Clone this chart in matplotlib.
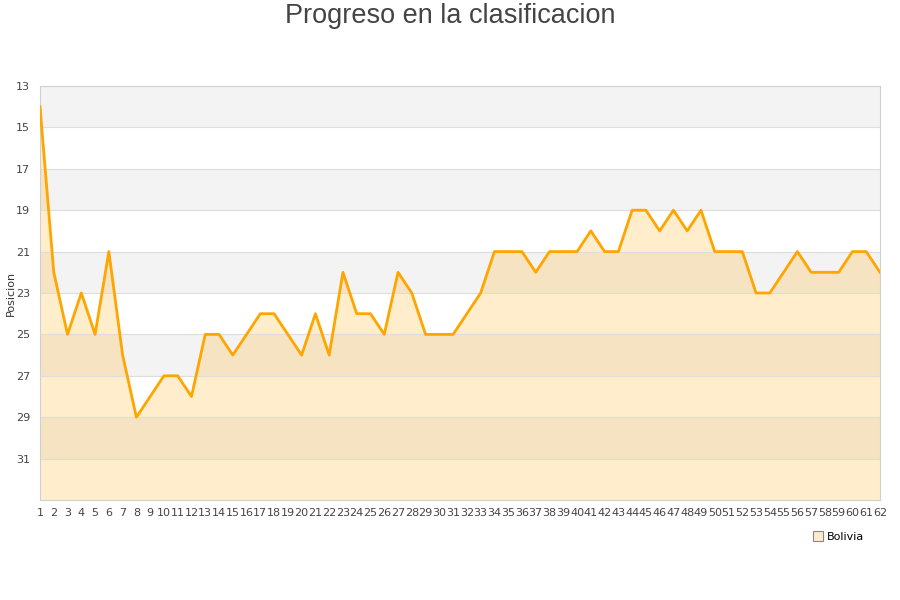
import numpy as np
import matplotlib.pyplot as plt
from matplotlib.lines import Line2D

# datos: posicion por jornada
jornadas = list(range(1, 63))
posicion = [14, 22, 25, 23, 25, 21, 26, 29, 28, 27,
            27, 28, 25, 25, 26, 25, 24, 24, 25, 26,
            24, 26, 22, 24, 24, 25, 22, 23, 25, 25,
            25, 24, 23, 21, 21, 21, 22, 21, 21, 21,
            20, 21, 21, 19, 19, 20, 19, 20, 19, 21,
            21, 21, 23, 23, 22, 21, 22, 22, 22, 21,
            21, 22]
y_ticks = list(range(13, 33, 2))
y_min, y_max = 13, 33

fig = plt.figure(figsize=(9, 6), dpi=100)
ax = fig.add_axes([40 / 900, 1 - 500 / 600, 840 / 900, 414 / 600])

# bandas alternas de fondo
for i, t in enumerate(range(y_min, y_max, 2)):
    if i % 2 == 0:
        ax.axhspan(t, t + 2, color='#f3f3f3', zorder=0, lw=0)

ax.fill_between(jornadas, posicion, y_max, color='#ffa500', alpha=0.2, lw=0, zorder=1)
ax.plot(jornadas, posicion, color='#ffa500', lw=2, zorder=3)

ax.set_xlim(1, 62)
ax.set_ylim(y_max, y_min)
ax.set_yticks(y_ticks)
ax.set_xticks(jornadas)
ax.set_xticklabels([str(j) for j in jornadas])
ax.tick_params(length=0, labelsize=8, labelcolor='#444444')
ax.tick_params(axis='x', pad=6)
ax.tick_params(axis='y', pad=7)
for t in y_ticks:
    ax.axhline(t, color='#dddddd', lw=0.8, zorder=2)
for s in ax.spines.values():
    s.set_color('#d0d0d0')
ax.set_ylabel('Posicion', fontsize=8, color='#333333')
ax.yaxis.set_label_coords(-24 / 840, 0.5)

fig.suptitle('Progreso en la clasificacion', fontsize=19.5, color='#444444', y=0.995,
             family='Liberation Sans')

handle = Line2D([], [], marker='s', ls='', markersize=7, markerfacecolor='#ffebc8',
                markeredgecolor='#888888', markeredgewidth=0.8)
fig.legend([handle], ['Bolivia'], loc='center', bbox_to_anchor=(838 / 900, 1 - 537 / 600),
           frameon=False, fontsize=8, handletextpad=0.3, handlelength=1)

fig.savefig('out.png', dpi=100)
